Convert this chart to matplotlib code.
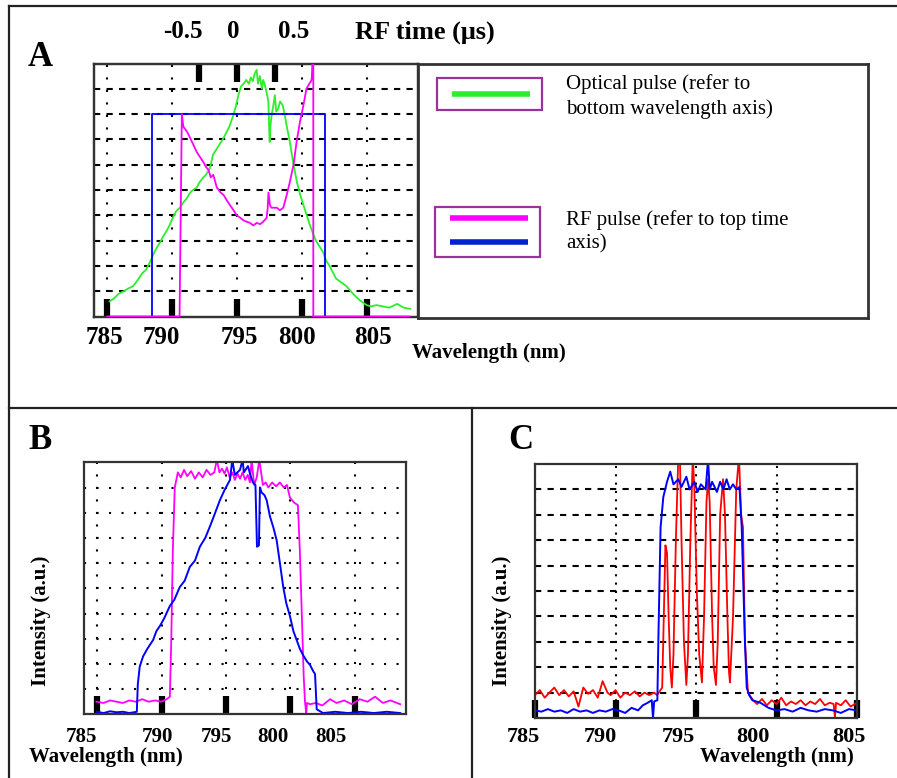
import matplotlib
matplotlib.use('Agg')
import matplotlib.pyplot as plt
from matplotlib import transforms
from matplotlib.lines import Line2D
from matplotlib.patches import Rectangle

W, H = 897, 778

# ---- panel A: optical pulse vs wavelength (bottom axis) ----
a_green_wl = [785.2, 785.5, 785.9, 786.3, 786.6, 787.0, 787.3, 787.7, 788.0, 788.3,
              788.6, 788.8, 789.1, 789.3, 789.6, 789.8, 790.1, 790.3, 790.6, 790.85,
              791.1, 791.4, 791.6, 791.9, 792.1, 792.4, 792.6, 792.9, 793.15, 793.4,
              793.7, 793.9, 794.2, 794.4, 794.7, 794.9, 795.1, 795.3, 795.5, 795.7,
              795.9, 796.05, 796.2, 796.35, 796.5, 796.6, 796.75, 796.9, 797.0, 797.1,
              797.25, 797.4, 797.45, 797.5, 797.55, 797.65, 797.8, 797.9, 798.0, 798.15,
              798.3, 798.5, 798.65, 798.8, 799.05, 799.3, 799.6, 799.85, 800.1, 800.35,
              800.6, 800.85, 801.1, 801.35, 801.6, 801.85, 802.1, 802.4, 802.6, 803.0,
              803.4, 803.9, 804.4, 804.95, 805.3, 805.7, 806.2, 806.7, 807.3, 807.8, 808.3]
a_green_val = [0.6, 0.7, 0.9, 1.0, 1.1, 1.2, 1.4, 1.7, 1.85, 2.15,
               2.5, 2.7, 2.95, 3.15, 3.4, 3.6, 3.95, 4.15, 4.3, 4.5,
               4.65, 4.9, 5.0, 5.1, 5.3, 5.5, 5.6, 5.85, 6.4, 6.6,
               6.85, 7.0, 7.3, 7.5, 7.95, 8.3, 8.75, 9.1, 9.2, 9.35,
               9.2, 9.45, 9.3, 9.6, 9.75, 9.2, 9.5, 9.0, 9.35, 9.2,
               8.9, 8.5, 7.6, 6.9, 7.5, 7.95, 8.4, 8.75, 8.1, 8.2,
               8.5, 8.35, 8.0, 7.55, 6.9, 6.1, 5.3, 4.8, 4.4, 4.0,
               3.6, 3.25, 2.95, 2.75, 2.55, 2.2, 2.0, 1.7, 1.5, 1.35,
               1.2, 0.9, 0.65, 0.45, 0.4, 0.45, 0.4, 0.35, 0.5, 0.35, 0.3]

# ---- panel A: RF pulses vs time (top axis, us) ----
a_rf_t = [-1.71, -0.76, -0.745, -0.73, -0.71, -0.66, -0.62, -0.58, -0.534, -0.49,
          -0.446, -0.41, -0.38, -0.35, -0.316, -0.27, -0.22, -0.18, -0.14, -0.096,
          -0.05, -0.008, 0.04, 0.08, 0.12, 0.167, 0.21, 0.255, 0.30, 0.342,
          0.386, 0.40, 0.41, 0.43, 0.45, 0.52, 0.56, 0.605, 0.65, 0.69,
          0.74, 0.78, 0.825, 0.87, 0.91, 0.947, 0.97, 0.98, 0.99, 1.0, 1.0, 2.27]
a_rf_val = [0, 0, 4.0, 8.0, 7.5, 7.3, 7.05, 6.8, 6.5, 6.3,
            6.1, 5.9, 5.8, 5.5, 5.6, 5.1, 4.9, 4.8, 4.6, 4.4,
            4.2, 4.0, 3.9, 3.8, 3.75, 3.7, 3.6, 3.7, 3.65, 3.75,
            3.9, 4.3, 4.9, 4.4, 4.3, 4.3, 4.2, 4.3, 4.8, 5.3,
            6.0, 6.9, 7.7, 8.35, 9.0, 9.2, 9.3, 9.4, 10.2, 10.2, 0, 0]
a_gate_t = [-1.126, -1.126, 1.154, 1.154]
a_gate_val = [0, 8.0, 8.0, 0]

# ---- panel B ----
b_mag_wl = [784.94, 785.5, 786.0, 786.5, 787.0, 787.5, 788.0, 788.5, 789.0, 789.5,
            790.0, 790.4, 790.65, 790.76, 790.88, 791.03, 791.27, 791.5, 791.75, 792.0,
            792.3, 792.6, 792.9, 793.2, 793.5, 793.8, 794.1, 794.3, 794.5, 794.7,
            794.9, 795.08, 795.3, 795.5, 795.7, 795.9, 796.1, 796.3, 796.5, 796.7,
            796.87, 797.0, 797.2, 797.4, 797.6, 797.88, 798.1, 798.3, 798.6, 798.9,
            799.2, 799.5, 799.75, 799.98, 800.3, 800.6, 800.75, 800.9, 801.05, 801.15,
            801.25, 801.3, 801.54, 802.0, 802.5, 803.1, 803.6, 804.2, 804.8, 805.4,
            806.0, 806.6, 807.2, 807.8, 808.55]
b_mag_val = [0.5, 0.45, 0.55, 0.5, 0.45, 0.55, 0.5, 0.6, 0.5, 0.55,
             0.5, 0.6, 0.7, 3.0, 6.5, 9.0, 9.6, 9.4, 9.7, 9.45,
             9.65, 9.35, 9.6, 9.4, 9.7, 9.5, 9.6, 10.1, 9.6, 9.75,
             9.55, 9.8, 9.4, 9.6, 9.3, 9.55, 9.35, 9.6, 9.3, 9.5,
             9.2, 10.1, 9.1, 9.4, 10.1, 9.1, 9.2, 9.0, 9.2, 9.05,
             9.2, 9.0, 9.1, 8.6, 8.4, 8.3, 6.5, 4.0, 1.5, 0.5,
             0.0, 0.45, 0.4, 0.45, 0.35, 0.6, 0.45, 0.55, 0.4, 0.6,
             0.5, 0.7, 0.45, 0.55, 0.4]
b_blue_wl = [784.97, 785.5, 786.0, 786.5, 787.0, 787.5, 788.08, 788.16, 788.31, 788.57,
             788.9, 789.35, 789.6, 789.87, 790.2, 790.65, 791.0, 791.42, 791.8, 792.2,
             792.6, 792.98, 793.4, 793.76, 794.1, 794.54, 794.9, 795.32, 795.5, 795.7,
             796.1, 796.3, 796.4, 796.72, 796.9, 797.1, 797.3, 797.42, 797.57, 797.65,
             797.78, 798.0, 798.17, 798.43, 798.7, 798.95, 799.2, 799.46, 799.7, 799.98,
             800.25, 800.5, 800.75, 801.0, 801.3, 801.54, 801.8, 801.93, 802.06, 802.55,
             803.5, 804.5, 805.5, 806.5, 807.5, 808.55]
b_blue_val = [0.1, 0.05, 0.12, 0.08, 0.1, 0.05, 0.1, 1.2, 1.9, 2.3,
              2.6, 2.95, 3.3, 3.5, 3.8, 4.3, 4.55, 5.05, 5.3, 5.85,
              6.1, 6.65, 7.0, 7.45, 7.9, 8.5, 8.9, 9.3, 10.1, 9.5,
              9.7, 10.1, 9.6, 9.85, 9.5, 9.2, 9.1, 6.65, 6.7, 9.0,
              8.8, 8.7, 8.5, 7.85, 7.4, 6.9, 6.0, 5.05, 4.4, 3.9,
              3.3, 2.95, 2.6, 2.35, 2.1, 1.96, 1.7, 1.6, 0.2, 0.05,
              0.1, 0.05, 0.1, 0.05, 0.1, 0.05]

# ---- panel C ----
c_red_wl = [785.0, 785.3, 785.6, 785.9, 786.2, 786.5, 786.8, 787.1, 787.4, 787.7,
            788.0, 788.3, 788.6, 788.9, 789.2, 789.5, 789.7, 790.0, 790.3, 790.6,
            790.9, 791.2, 791.5, 791.8, 792.1, 792.4, 792.58, 792.9, 793.0, 793.1,
            793.2, 793.3, 793.4, 793.5, 793.6, 793.75, 793.9, 794.0, 794.1, 794.25,
            794.4, 794.5, 794.65, 794.8, 794.9, 795.05, 795.2, 795.37, 795.5, 795.65,
            795.75, 795.85, 796.0, 796.1, 796.24, 796.35, 796.5, 796.68, 796.8, 796.95,
            797.05, 797.11, 797.3, 797.5, 797.67, 797.8, 797.92, 798.04, 798.23, 798.54,
            798.8, 799.1, 799.4, 799.7, 800.0, 800.3, 800.6, 800.9, 801.2, 801.5,
            801.8, 802.1, 802.4, 802.7, 803.0, 803.3, 803.55, 803.63, 803.7, 804.0,
            804.3, 804.6, 805.0]
c_red_val = [0.9, 1.1, 0.8, 1.0, 1.2, 0.9, 1.1, 0.85, 1.05, 0.45,
             1.2, 0.95, 1.1, 0.8, 1.45, 1.0, 0.9, 1.1, 0.8, 1.0,
             0.9, 1.05, 0.85, 1.0, 0.9, 1.0, 0.9, 1.2, 4.0, 6.8,
             6.5, 4.0, 2.0, 1.2, 2.5, 7.0, 10.3, 10.3, 7.0, 3.0,
             1.3, 2.5, 7.0, 10.3, 9.0, 5.0, 2.5, 1.4, 4.0, 8.5,
             9.4, 8.5, 4.0, 2.0, 1.3, 3.0, 8.0, 9.4, 8.0, 4.0,
             1.8, 1.4, 4.0, 9.0, 10.3, 8.0, 7.5, 3.0, 1.0, 0.7,
             0.55, 0.75, 0.5, 0.7, 0.55, 0.8, 0.5, 0.65, 0.55, 0.7,
             0.5, 0.65, 0.55, 0.75, 0.5, 0.6, 0.55, 0.0, 0.6, 0.5,
             0.7, 0.45, 0.6]
c_blue_wl = [785.0, 785.4, 785.8, 786.2, 786.6, 787.0, 787.4, 787.8, 788.2, 788.6,
             789.0, 789.4, 789.8, 790.2, 790.6, 791.0, 791.4, 791.7, 792.0, 792.25,
             792.33, 792.4, 792.6, 792.66, 792.8, 792.97, 793.2, 793.4, 793.6, 793.9,
             794.1, 794.4, 794.6, 794.9, 795.1, 795.3, 795.6, 795.75, 795.85, 796.0,
             796.3, 796.5, 796.7, 796.9, 797.1, 797.3, 797.5, 797.7, 797.84, 797.95,
             798.04, 798.15, 798.3, 798.5, 799.0, 799.5, 800.0, 800.5, 801.0, 801.5,
             802.0, 802.5, 803.0, 803.5, 804.0, 804.5, 805.0]
c_blue_val = [0.3, 0.25, 0.35, 0.25, 0.3, 0.2, 0.35, 0.25, 0.3, 0.2,
              0.3, 0.25, 0.35, 0.3, 0.2, 0.4, 0.3, 0.5, 0.6, 0.7,
              0.0, 0.65, 0.7, 3.0, 7.5, 8.7, 9.3, 9.7, 9.2, 9.4,
              9.1, 9.5, 9.0, 9.3, 8.9, 9.2, 9.0, 10.2, 9.0, 9.3,
              8.9, 9.3, 9.0, 9.4, 9.0, 9.2, 9.0, 9.1, 7.5, 5.0,
              3.0, 1.2, 0.9, 0.7, 0.6, 0.4, 0.3, 0.35, 0.25, 0.4,
              0.3, 0.25, 0.35, 0.3, 0.2, 0.35, 0.3]

wl_ticks = [785, 790, 795, 800, 805]
wl_labels = ['785', '790', '795', '800', '805']
time_ticks = [-0.5, 0, 0.5]
time_labels = ['-0.5', '0', '0.5']
# where the printed numbers actually sit (they are offset from the tick bars)
a_label_pos = [784.82, 789.2, 795.15, 799.57, 805.46]
a_time_label_pos = [-0.71, -0.05, 0.737]
b_label_pos = [783.8, 789.71, 794.23, 798.66, 803.17]
c_label_pos = [784.25, 789.04, 793.88, 798.54, 804.5]

plt.rcParams['font.family'] = ['Liberation Serif', 'DejaVu Serif']

GREEN = '#2bef2b'
MAGENTA = '#ff00ff'
BLUE = '#0000ff'
RED = '#ff0000'
DOTS = (0, (1, 5))
DASH = (0, (3, 3))


def px_rect(left, top, right, bottom):
    return [left / W, 1 - bottom / H, (right - left) / W, (bottom - top) / H]


def fx(px):
    return px / W


def fy(py):
    return 1 - py / H


def frame(ax):
    for s in ax.spines.values():
        s.set_linewidth(1.6)
        s.set_color('#333333')


def bars(ax, ticks):
    ax.set_xticks(ticks)
    ax.tick_params(axis='x', which='major', direction='in', length=13,
                   width=4.5, color='black', labelbottom=False, labeltop=False)
    ax.tick_params(axis='y', length=0, labelleft=False)


def numbers(ax, positions, labels, py, size):
    trans = transforms.blended_transform_factory(ax.transData, fig.transFigure)
    for x, lab in zip(positions, labels):
        ax.text(x, fy(py), lab, transform=trans, ha='center', va='center',
                fontsize=size, fontweight='bold', clip_on=False)


fig = plt.figure(figsize=(W / 100, H / 100), dpi=100)

# ---------------- A ----------------
ax_a = fig.add_axes(px_rect(94, 63.5, 418, 316.5))
ax_a.set_xlim(784.0, 808.9)
ax_a.set_ylim(0, 10)
ax_a.set_yticks(range(1, 10))
bars(ax_a, wl_ticks)
ax_a.grid(axis='y', linestyle=DASH, color='black', linewidth=1.5)
ax_a.grid(axis='x', linestyle=DOTS, color='black', linewidth=1.5)
ax_a.plot(a_green_wl, a_green_val, color=GREEN, lw=1.3)
frame(ax_a)

ax_t = ax_a.twiny()
ax_t.set_xlim(-1.886, 2.378)
ax_t.set_xticks(time_ticks)
ax_t.tick_params(axis='x', direction='in', length=13, width=4.5,
                 color='black', labeltop=False)
ax_t.plot(a_gate_t, a_gate_val, color=BLUE, lw=1.3, zorder=3)
ax_t.plot(a_rf_t, a_rf_val, color=MAGENTA, lw=1.3, zorder=3)
frame(ax_t)

numbers(ax_a, a_label_pos, wl_labels, 338, 18)
numbers(ax_t, a_time_label_pos, time_labels, 32, 18)
fig.text(fx(355), fy(32), 'RF time (\u03bcs)', ha='left', va='center',
         fontsize=19, fontweight='bold')
fig.text(fx(412), fy(353), 'Wavelength (nm)', ha='left', va='center',
         fontsize=15, fontweight='bold')

# legend box
lax = fig.add_axes(px_rect(418, 63.5, 868, 318))
lax.set_xlim(0, 1)
lax.set_ylim(0, 1)
lax.set_xticks([])
lax.set_yticks([])
for s in lax.spines.values():
    s.set_linewidth(2)
    s.set_color('#333333')
lax.add_patch(Rectangle((0.042, 0.817), 0.234, 0.126, fill=False,
                        ec='#993399', lw=1.6))
lax.plot([0.0756, 0.249], [0.88, 0.88], color=GREEN, lw=4, solid_capstyle='butt')
lax.add_patch(Rectangle((0.038, 0.24), 0.233, 0.196, fill=False,
                        ec='#993399', lw=1.6))
lax.plot([0.071, 0.244], [0.393, 0.393], color=MAGENTA, lw=4, solid_capstyle='butt')
lax.plot([0.071, 0.244], [0.299, 0.299], color='#0022cc', lw=4, solid_capstyle='butt')
lax.text(0.329, 0.87, 'Optical pulse (refer to\nbottom wavelength axis)',
         ha='left', va='center', fontsize=15, linespacing=1.3)
lax.text(0.329, 0.34, 'RF pulse (refer to top time\naxis)',
         ha='left', va='center', fontsize=15, linespacing=1.3)

# ---------------- B ----------------
ax_b = fig.add_axes(px_rect(84.3, 462.3, 406, 714.3))
ax_b.set_xlim(784.0, 809.0)
ax_b.set_ylim(0, 10)
ax_b.set_yticks(range(1, 10))
bars(ax_b, wl_ticks)
ax_b.grid(axis='both', linestyle=DOTS, color='black', linewidth=1.5)
ax_b.plot(b_mag_wl, b_mag_val, color=MAGENTA, lw=1.3)
ax_b.plot(b_blue_wl, b_blue_val, color=BLUE, lw=1.4)
frame(ax_b)
numbers(ax_b, b_label_pos, wl_labels, 737, 15)
fig.text(fx(29), fy(757), 'Wavelength (nm)', ha='left', va='center',
         fontsize=15, fontweight='bold')
fig.text(fx(41), fy(621), 'Intensity (a.u.)', ha='center', va='center',
         rotation=90, fontsize=15, fontweight='bold')

# ---------------- C ----------------
ax_c = fig.add_axes(px_rect(535, 464, 857, 718))
ax_c.set_xlim(785, 805)
ax_c.set_ylim(0, 10)
ax_c.set_yticks(range(1, 10))
bars(ax_c, wl_ticks)
ax_c.grid(axis='y', linestyle=DASH, color='black', linewidth=1.5)
ax_c.grid(axis='x', linestyle=(0, (1, 3)), color='black', linewidth=1.5)
ax_c.plot(c_red_wl, c_red_val, color=RED, lw=1.3)
ax_c.plot(c_blue_wl, c_blue_val, color=BLUE, lw=1.4)
frame(ax_c)
numbers(ax_c, c_label_pos, wl_labels, 737, 16)
fig.text(fx(700), fy(757), 'Wavelength (nm)', ha='left', va='center',
         fontsize=15, fontweight='bold')
fig.text(fx(502), fy(621), 'Intensity (a.u.)', ha='center', va='center',
         rotation=90, fontsize=15, fontweight='bold')

# panel letters
for letter, x, y in [('A', 28, 57.5), ('B', 28, 440), ('C', 508, 440)]:
    fig.text(fx(x), fy(y), letter, ha='left', va='center', fontsize=25,
             fontweight='bold')

# page frame and dividers
for xs, ys in [((9, W), (6, 6)), ((9, 9), (6, H)), ((9, W), (408.3, 408.3)),
               ((471.7, 471.7), (408.3, H))]:
    fig.add_artist(Line2D([fx(v) for v in xs], [fy(v) for v in ys],
                          color='#222222', lw=1.6))

fig.savefig('out.png', dpi=100)
